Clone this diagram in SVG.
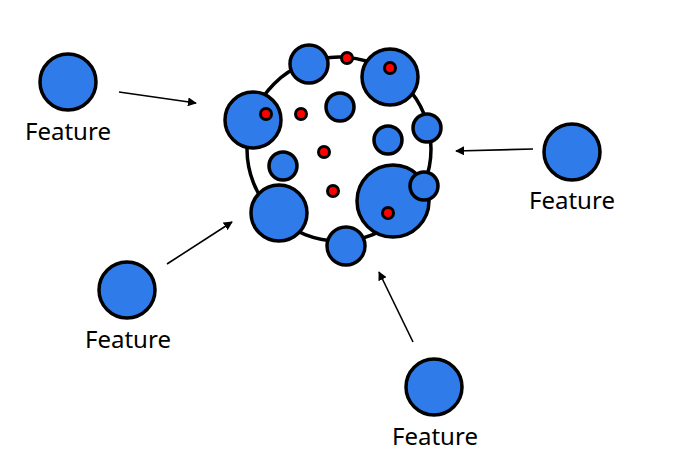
<svg xmlns="http://www.w3.org/2000/svg" width="677" height="467" viewBox="0 0 677 467">
<style>
.b{fill:#2F7BEA;stroke:#000;stroke-width:3.5}
.r{fill:#FF0000;stroke:#000;stroke-width:3}
.o{fill:none;stroke:#000;stroke-width:3.5}
.t{font-family:"Noto Sans","Open Sans",sans-serif;font-size:24px;fill:#000}
.a{stroke:#000;stroke-width:1.6;fill:none;marker-end:url(#ah)}
</style>
<defs>
<marker id="ah" viewBox="0 0 10 10" refX="9" refY="5" markerWidth="9" markerHeight="9" markerUnits="userSpaceOnUse" orient="auto">
<path d="M0,0 L10,5 L0,10 z" fill="#000"/>
</marker>
</defs>
<rect width="677" height="467" fill="#fff"/>
<g id="cluster">
<circle class="o" cx="339" cy="149" r="92"/>
<circle class="b" cx="309" cy="64" r="19"/>
<circle class="b" cx="390" cy="77" r="28"/>
<circle class="r" cx="390" cy="68" r="5.5"/>
<circle class="b" cx="253" cy="120" r="28"/>
<circle class="r" cx="266" cy="114" r="5.5"/>
<circle class="r" cx="347" cy="58" r="5.5"/>
<circle class="r" cx="301" cy="114" r="5.5"/>
<circle class="b" cx="340" cy="107" r="14"/>
<circle class="b" cx="427" cy="128" r="14"/>
<circle class="b" cx="388" cy="140" r="14"/>
<circle class="r" cx="324" cy="152" r="5.5"/>
<circle class="b" cx="283" cy="166" r="14"/>
<circle class="r" cx="333" cy="191" r="5.5"/>
<circle class="b" cx="393" cy="201" r="36"/>
<circle class="r" cx="388" cy="213" r="5.5"/>
<circle class="b" cx="424" cy="186" r="14"/>
<circle class="b" cx="279" cy="213" r="28"/>
<circle class="b" cx="346" cy="246" r="19"/>
</g>
<g id="feature-tl">
<circle class="b" cx="68" cy="82" r="28"/>
<text class="t" x="25" y="140">Feature</text>
</g>
<g id="feature-r">
<circle class="b" cx="572" cy="152" r="28"/>
<text class="t" x="529" y="209">Feature</text>
</g>
<g id="feature-bl">
<circle class="b" cx="127" cy="290" r="28"/>
<text class="t" x="85" y="348">Feature</text>
</g>
<g id="feature-b">
<circle class="b" cx="434" cy="387" r="28"/>
<text class="t" x="392" y="445">Feature</text>
</g>
<g id="connectors">
<line class="a" x1="119" y1="92" x2="196" y2="103"/>
<line class="a" x1="533" y1="149" x2="456" y2="151"/>
<line class="a" x1="167" y1="264" x2="232" y2="222"/>
<line class="a" x1="413" y1="342" x2="379" y2="272"/>
</g>
</svg>
